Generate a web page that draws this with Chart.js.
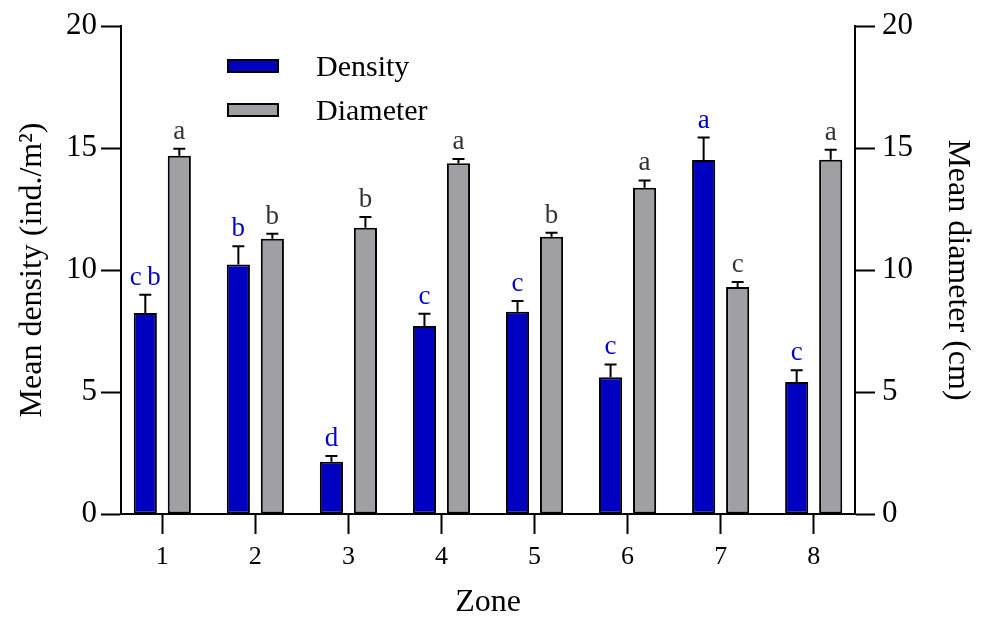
<!DOCTYPE html>
<html>
<head>
<meta charset="utf-8">
<script src="https://cdn.jsdelivr.net/npm/chart.js@4"></script>
<style>
  body { margin: 0; background: #fff; }
</style>
</head>
<body>
<canvas id="zoneChart" width="984" height="617"></canvas>
<script>
// Chart data
const zones = ['1', '2', '3', '4', '5', '6', '7', '8'];
const densityMean = [8.24, 10.23, 2.14, 7.70, 8.29, 5.60, 14.51, 5.41];
const densityErr = [0.75, 0.74, 0.24, 0.51, 0.44, 0.53, 0.92, 0.48];
const densityLetters = ['c\u2009b', 'b', 'd', 'c', 'c', 'c', 'a', 'c'];
const diameterMean = [14.68, 11.28, 11.73, 14.38, 11.36, 13.37, 9.30, 14.52];
const diameterErr = [0.29, 0.21, 0.44, 0.17, 0.17, 0.30, 0.21, 0.41];
const diameterLetters = ['a', 'b', 'b', 'a', 'b', 'a', 'c', 'a'];
const yTicks = [0, 5, 10, 15, 20];

const FONT = '"Liberation Serif", "DejaVu Serif", serif';
const BLUE = 'rgb(0, 0, 192)';
const GREY = 'rgb(160, 160, 164)';

// error bars + significance letters
const errorBarPlugin = {
    id: 'errorBars',
    afterDatasetsDraw(chart) {
        const ctx = chart.ctx;
        chart.data.datasets.forEach((ds, di) => {
            const meta = chart.getDatasetMeta(di);
            const yScale = chart.scales[ds.yAxisID];
            meta.data.forEach((bar, i) => {
                const top = yScale.getPixelForValue(ds.data[i].y + ds.errors[i]);
                ctx.save();
                ctx.strokeStyle = '#000';
                ctx.lineWidth = 2;
                ctx.beginPath();
                ctx.moveTo(bar.x, bar.y);
                ctx.lineTo(bar.x, top);
                ctx.moveTo(bar.x - 6, top);
                ctx.lineTo(bar.x + 6, top);
                ctx.stroke();
                ctx.fillStyle = ds.letterColor;
                ctx.font = '27px ' + FONT;
                ctx.textAlign = 'center';
                ctx.textBaseline = 'alphabetic';
                ctx.fillText(ds.letters[i], bar.x, top - 10);
                ctx.restore();
            });
        });
    }
};

// legend inside the plot, top left
const innerLegend = {
    id: 'innerLegend',
    afterDraw(chart) {
        const ctx = chart.ctx;
        const rows = [66, 110];
        chart.data.datasets.forEach((ds, i) => {
            ctx.save();
            ctx.fillStyle = ds.backgroundColor;
            ctx.strokeStyle = '#000';
            ctx.lineWidth = 2;
            ctx.fillRect(228, rows[i] - 6, 50, 12);
            ctx.strokeRect(228, rows[i] - 6, 50, 12);
            ctx.fillStyle = '#000';
            ctx.font = '30px ' + FONT;
            ctx.textAlign = 'left';
            ctx.textBaseline = 'middle';
            ctx.fillText(ds.label, 316, rows[i] + 2);
            ctx.restore();
        });
    }
};

function axisY(position, title, width, tickPad, titlePad) {
    return {
        position: position,
        min: 0,
        max: 20,
        afterBuildTicks: scale => { scale.ticks = yTicks.map(v => ({ value: v })); },
        afterFit: scale => { scale.width = width; },
        ticks: { color: '#000', font: { family: FONT, size: 31 }, padding: tickPad },
        grid: { drawOnChartArea: false, tickLength: 20, tickWidth: 2, tickColor: '#000' },
        border: { color: '#000', width: 2 },
        title: { display: true, text: title, color: '#000', font: { family: FONT, size: 32 },
                 padding: { top: titlePad, bottom: 0 } }
    };
}

new Chart(document.getElementById('zoneChart'), {
    type: 'bar',
    data: {
        datasets: [{
            label: 'Density',
            data: zones.map((z, i) => ({ x: Number(z), y: densityMean[i] })),
            errors: densityErr,
            letters: densityLetters,
            letterColor: 'rgb(0, 0, 200)',
            yAxisID: 'y',
            backgroundColor: BLUE,
            borderColor: '#000',
            borderWidth: 2,
            borderSkipped: false
        }, {
            label: 'Diameter',
            data: zones.map((z, i) => ({ x: Number(z), y: diameterMean[i] })),
            errors: diameterErr,
            letters: diameterLetters,
            letterColor: '#333',
            yAxisID: 'y2',
            backgroundColor: GREY,
            borderColor: '#000',
            borderWidth: 2,
            borderSkipped: false
        }]
    },
    options: {
        responsive: false,
        animation: false,
        categoryPercentage: 0.731,
        barPercentage: 0.68,
        layout: { padding: { top: 26, right: 0, left: 0, bottom: 0 } },
        plugins: { legend: { display: false }, tooltip: { enabled: false } },
        scales: {
            x: {
                type: 'linear',
                offset: false,
                min: 0.556,
                max: 8.444,
                afterBuildTicks: scale => { scale.ticks = zones.map(z => ({ value: Number(z) })); },
                afterFit: scale => { scale.height = 103; },
                ticks: { color: '#000', font: { family: FONT, size: 26 }, padding: 8,
                         callback: v => zones[v - 1] },
                grid: { offset: false, drawOnChartArea: false, tickLength: 20, tickWidth: 2, tickColor: '#000' },
                border: { color: '#000', width: 2 },
                title: { display: true, text: 'Zone', color: '#000',
                         font: { family: FONT, size: 32, lineHeight: 0.9 }, padding: 0 }
            },
            y: axisY('left', 'Mean density (ind./m\u00B2)', 121, 4, 13),
            y2: axisY('right', 'Mean diameter (cm)', 129, 7, 7)
        }
    },
    plugins: [errorBarPlugin, innerLegend]
});
</script>
</body>
</html>
